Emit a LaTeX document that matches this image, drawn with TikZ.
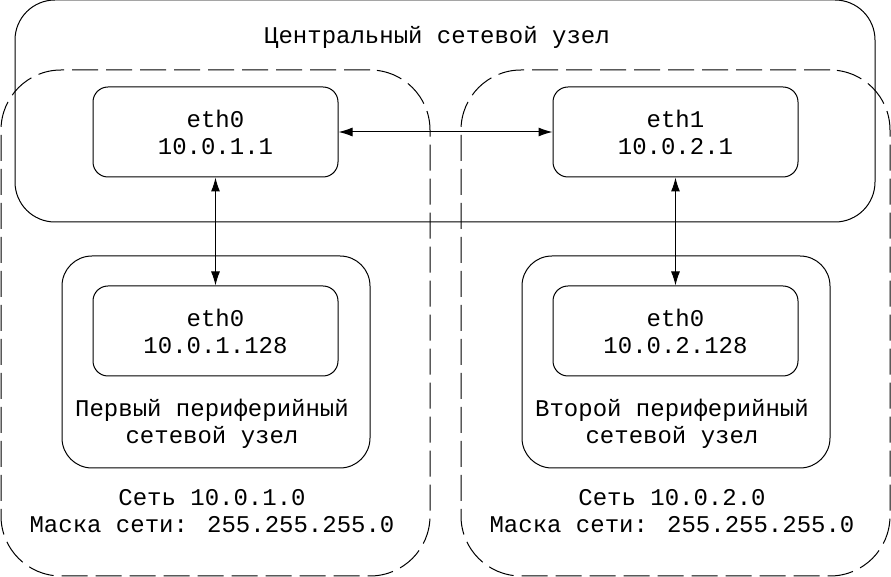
\documentclass[tikz,border=0pt]{standalone}
\usepackage{fontspec}
\setmainfont{Liberation Mono}
\usetikzlibrary{arrows.meta}
\begin{document}
\begin{tikzpicture}[x=0.5pt,y=-0.5pt,line width=0.5pt,<->,>={Latex[length=7pt,width=4.5pt]}]
	\fontsize{12}{13.5}\selectfont
	\tikzstyle{host}=[draw,rounded corners=20pt,minimum width=430pt,minimum height=111pt,inner sep=0pt]
	\tikzstyle{net}=[draw,dashed,dash pattern=on 13pt off 4pt,rounded corners=30pt,minimum width=214.5pt,minimum height=253pt,inner sep=0pt]
	\tikzstyle{periph}=[draw,rounded corners=15pt,minimum width=154pt,minimum height=106pt,inner sep=0pt]
	\tikzstyle{iface}=[draw,rounded corners=7.5pt,minimum width=122.5pt,minimum height=45pt,align=center,inner sep=0pt]
	\tikzstyle{label}=[align=center,inner sep=0pt]

	\def \hosty{132}
	\def \periy{331}

	\useasboundingbox (0,0) rectangle (891,577);

	% networks
	\node[net] 	(net1)	at (215.5,323)	{};
	\node[net] 	(net2)	at (675.5,323)	{};
	\node[label]	(net1txt)	at (212,511)	{Сеть 10.0.1.0\\Маска сети: 255.255.255.0};
	\node[label]	(net2txt)	at (672,511)	{Сеть 10.0.2.0\\Маска сети: 255.255.255.0};

	% central host
	\node[host] 	(center)	at (445,111)	{};
	\node[label]	(centertxt)	at (437,37)	{Центральный сетевой узел};
	\node[iface]	(c0)	at (215.5,\hosty)	{eth0\\10.0.1.1};
	\node[iface]	(c1)	at (675.5,\hosty)	{eth1\\10.0.2.1};

	% peripheral hosts
	\node[periph]	(p1)	at (216,362)	{};
	\node[periph]	(p2)	at (676,362)	{};
	\node[iface]	(p1e)	at (215.5,\periy)	{eth0\\10.0.1.128};
	\node[iface]	(p2e)	at (675.5,\periy)	{eth0\\10.0.2.128};
	\node[label]	(p1txt)	at (212,424)	{Первый периферийный\\сетевой узел};
	\node[label]	(p2txt)	at (672,424)	{Второй периферийный\\сетевой узел};

	\draw (c0) -- (c1);
	\draw (c0) -- (p1e);
	\draw (c1) -- (p2e);
\end{tikzpicture}
\end{document}
